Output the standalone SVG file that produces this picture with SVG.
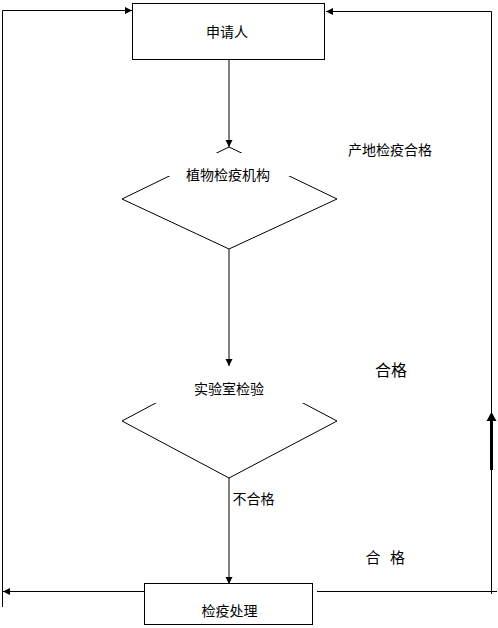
<svg xmlns="http://www.w3.org/2000/svg" width="498" height="628" viewBox="0 0 498 628">
<style>
.box{fill:#fff;stroke:#000;stroke-width:1}
.dia{fill:none;stroke:#000;stroke-width:1}
.mask{fill:#fff;stroke:none}
.ln{fill:none;stroke:#000;stroke-width:1}
.t{font-family:"Noto Sans CJK SC","Noto Sans",sans-serif;font-size:14px;fill:#000;text-anchor:middle}
</style>
<defs>
<marker id="ah" markerWidth="8" markerHeight="8" refX="7" refY="4" orient="auto" markerUnits="userSpaceOnUse">
<path d="M0,0.5 L7,4 L0,7.5 Z" fill="#000"/>
</marker>
</defs>
<rect width="498" height="628" fill="#fff"/>
<g id="applicant">
<rect class="box" x="132.5" y="3.5" width="192" height="56"/>
<text class="t" x="227" y="37">申请人</text>
</g>
<g id="plant-quarantine">
<polygon class="dia" points="229,147 337,199 229,249 122,199"/>
<rect class="mask" x="165" y="153" width="128" height="23"/>
<text class="t" x="228" y="180">植物检疫机构</text>
</g>
<g id="lab-test">
<polygon class="dia" points="229,364 337,421 229,478 122,421"/>
<rect class="mask" x="150" y="364" width="158" height="39"/>
<text class="t" x="229" y="394">实验室检验</text>
</g>
<g id="quarantine-treatment">
<rect class="box" x="144.5" y="583.5" width="168" height="41"/>
<text class="t" x="229.5" y="616">检疫处理</text>
</g>
<g id="labels">
<text class="t" x="390" y="155">产地检疫合格</text>
<text class="t" x="391" y="375.5" style="font-size:16px">合格</text>
<text class="t" x="253.5" y="504">不合格</text>
<text class="t" x="373" y="563" style="font-size:15px">合</text>
<text class="t" x="397.5" y="563" style="font-size:15px">格</text>
</g>
<g id="connectors">
<line class="ln" x1="229" y1="59" x2="229" y2="147" marker-end="url(#ah)"/>
<line class="ln" x1="229" y1="249" x2="229" y2="366" marker-end="url(#ah)"/>
<line class="ln" x1="229" y1="478" x2="229" y2="584" marker-end="url(#ah)"/>
<path class="ln" d="M2.5,607 V10.5 H132" marker-end="url(#ah)"/>
<path class="ln" d="M144,591.5 H3" marker-end="url(#ah)"/>
<path class="ln" d="M491.5,594 V11.5 H326" marker-end="url(#ah)"/>
<path class="ln" d="M317,591.5 H497"/>
<line x1="491.5" y1="470" x2="491.5" y2="420" stroke="#000" stroke-width="3"/>
<polygon points="491.5,412 486.5,421 496.5,421" fill="#000"/>
</g>
</svg>
